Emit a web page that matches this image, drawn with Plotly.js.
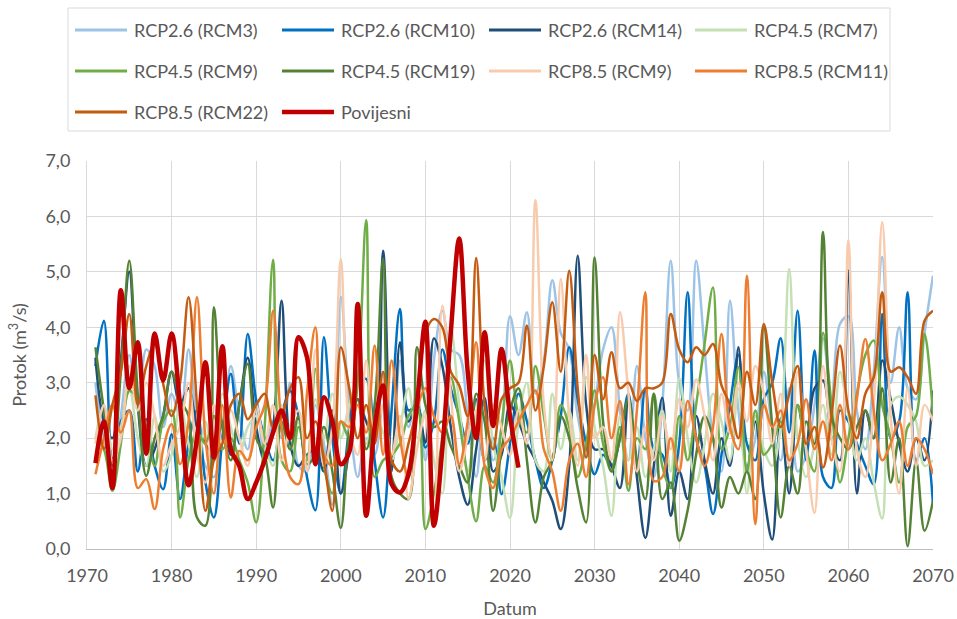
<!DOCTYPE html>
<html>
<head>
<meta charset="utf-8">
<script src="https://cdn.plot.ly/plotly-3.0.1.min.js"></script>
<style>html,body{margin:0;padding:0;background:#fff;}#chart{width:957px;height:619px;}</style>
</head>
<body>
<div id="chart"></div>
<script>
// ---- categories (years) ----
const years = [1971,1972,1973,1974,1975,1976,1977,1978,1979,1980,
1981,1982,1983,1984,1985,1986,1987,1988,1989,1990,
1991,1992,1993,1994,1995,1996,1997,1998,1999,2000,
2001,2002,2003,2004,2005,2006,2007,2008,2009,2010,
2011,2012,2013,2014,2015,2016,2017,2018,2019,2020,
2021,2022,2023,2024,2025,2026,2027,2028,2029,2030,
2031,2032,2033,2034,2035,2036,2037,2038,2039,2040,
2041,2042,2043,2044,2045,2046,2047,2048,2049,2050,
2051,2052,2053,2054,2055,2056,2057,2058,2059,2060,
2061,2062,2063,2064,2065,2066,2067,2068,2069,2070];
const yearsHist = [1971,1972,1973,1974,1975,1976,1977,1978,1979,1980,
1981,1982,1983,1984,1985,1986,1987,1988,1989,1990,
1991,1992,1993,1994,1995,1996,1997,1998,1999,2000,
2001,2002,2003,2004,2005,2006,2007,2008,2009,2010,
2011,2012,2013,2014,2015,2016,2017,2018,2019,2020,2021];

// ---- series values (m3/s) ----
const rcp26_rcm3 = [3.0,2.0,1.6,2.4,3.5,2.6,3.6,3.3,2.2,2.8,
2.4,3.6,2.2,1.5,1.3,2.0,3.3,2.4,1.8,2.7,
1.6,2.3,2.0,3.0,1.5,1.4,2.6,1.9,0.8,4.55,
2.5,1.3,2.0,1.7,2.6,1.5,3.4,2.2,2.8,1.6,
3.4,4.3,3.6,3.5,2.4,1.3,2.6,1.6,2.2,4.2,
3.5,4.27,2.8,3.4,4.85,3.9,3.6,2.4,1.8,2.6,
3.6,4.0,2.5,1.6,3.3,2.0,1.3,2.6,5.2,3.0,
2.5,5.2,3.6,2.0,1.4,4.48,2.5,1.5,2.0,3.2,
2.2,1.6,2.9,1.4,1.7,2.6,3.8,2.7,4.06,4.2,
2.5,1.8,3.2,5.27,3.0,4.0,2.9,2.7,3.9,4.93];

const rcp26_rcm10 = [3.3,4.12,1.6,2.3,2.5,1.4,2.34,1.5,1.08,2.07,
0.9,1.9,2.5,1.2,0.57,2.0,3.16,1.9,3.88,2.67,
2.0,1.6,2.4,2.85,2.4,1.3,0.7,3.82,2.0,1.0,
2.2,3.0,3.07,1.6,0.57,2.5,4.33,2.5,2.6,1.83,
2.3,3.6,2.9,2.4,1.9,2.7,1.6,2.0,0.99,1.9,
2.8,2.3,1.6,1.1,1.6,2.4,3.64,2.7,1.9,1.35,
1.7,1.5,2.0,2.8,1.4,2.9,1.8,1.7,1.1,1.9,
4.63,2.0,1.5,0.63,1.7,2.6,3.5,1.9,1.6,2.7,
3.0,3.8,2.1,4.3,1.6,3.58,1.3,1.1,2.5,2.3,
1.9,1.5,1.17,4.24,2.0,2.3,4.63,1.6,2.0,0.81];

const rcp26_rcm14 = [3.45,2.3,2.0,3.4,5.0,2.6,1.5,1.8,2.4,3.2,
2.6,2.9,2.2,1.9,1.6,2.3,1.7,2.6,3.45,2.2,
1.6,2.2,4.48,1.9,1.5,1.7,1.8,1.4,2.5,1.0,
1.8,2.7,2.3,2.0,5.38,1.4,3.73,2.3,2.6,1.92,
3.8,3.3,2.2,1.3,0.8,1.8,2.73,1.4,1.7,2.6,
2.3,1.9,1.6,1.2,0.87,0.36,1.5,5.29,2.6,1.8,
1.8,1.5,1.1,2.73,1.3,0.2,1.5,2.73,0.6,1.4,
0.9,2.4,1.6,1.0,2.0,1.5,3.64,1.4,2.3,1.0,
0.17,2.36,1.0,2.6,1.9,2.9,3.04,2.0,1.6,5.02,
1.0,2.5,2.0,3.4,2.7,1.9,1.4,2.0,1.6,2.86];

const rcp45_rcm7 = [2.0,2.6,1.8,2.2,2.9,2.0,1.5,2.4,1.4,1.7,
2.6,1.9,1.3,2.3,1.6,2.8,2.2,1.7,2.2,2.4,
1.9,1.5,2.6,1.8,2.3,1.6,2.7,2.0,2.8,2.0,
2.6,3.0,1.9,2.4,2.1,1.6,2.2,2.9,2.0,2.5,
1.6,1.0,4.0,2.6,1.4,2.4,3.4,1.9,1.3,0.56,
2.3,3.0,1.6,1.4,2.8,1.8,2.5,1.6,3.1,2.2,
1.5,0.6,2.4,1.6,2.2,1.3,1.8,2.5,1.4,3.08,
2.0,1.2,1.9,2.8,2.3,1.6,2.9,1.0,2.4,1.8,
1.5,2.2,5.05,2.0,1.3,1.9,2.6,1.7,3.2,2.4,
1.6,2.0,1.2,0.55,2.6,2.75,2.6,2.3,1.5,1.6];

const rcp45_rcm9 = [2.0,1.8,1.05,1.9,2.85,2.7,2.2,1.5,2.3,2.5,
0.57,1.6,2.1,1.9,2.4,1.8,2.0,1.6,1.2,0.48,
2.2,5.22,1.6,1.4,2.2,1.6,3.25,1.5,1.0,2.3,
2.0,3.0,5.93,1.3,1.6,1.7,1.9,2.4,2.6,0.36,
1.0,2.0,3.1,2.3,1.3,0.5,1.5,1.2,2.2,3.4,
2.4,2.1,3.3,2.4,1.6,2.6,2.2,1.3,1.9,2.86,
1.9,1.4,2.2,1.05,2.0,1.8,2.8,1.5,1.1,2.4,
1.6,2.6,3.7,4.72,1.8,2.2,3.28,1.4,2.5,1.7,
1.9,2.3,1.6,2.6,1.8,1.4,3.9,2.6,1.2,2.0,
2.8,3.5,3.76,2.6,2.0,1.2,2.2,2.4,3.88,2.4];

const rcp45_rcm19 = [3.64,2.5,1.5,3.2,5.2,2.8,1.32,2.0,2.4,3.2,
2.7,2.4,0.57,0.42,4.36,2.2,1.6,2.6,3.34,2.0,
1.7,0.75,2.3,1.8,2.4,1.53,1.7,2.2,1.4,0.38,
2.1,2.7,1.8,2.6,5.23,1.3,1.0,0.9,3.64,2.6,
2.2,2.3,1.86,1.5,1.2,2.8,2.3,0.69,1.8,2.5,
2.9,1.6,0.48,1.3,1.6,2.4,2.0,1.1,0.48,5.26,
2.3,1.4,2.0,2.7,1.6,0.9,2.8,0.9,1.2,0.15,
0.7,1.7,2.4,2.0,0.75,1.3,1.0,1.4,0.9,4.0,
2.2,0.57,1.5,1.0,2.3,1.9,5.72,2.4,2.0,1.8,
2.2,2.5,2.0,2.9,1.2,2.0,0.05,1.6,0.33,0.87];

const rcp85_rcm9 = [1.9,2.6,1.6,2.0,3.3,2.5,3.0,2.4,1.5,1.9,
2.2,3.0,1.7,1.2,2.6,1.9,2.5,2.0,1.5,2.6,
1.9,2.6,1.6,2.2,2.5,1.4,3.6,1.5,2.2,5.23,
2.2,1.7,3.4,1.9,2.6,1.7,2.4,0.9,1.8,2.4,
0.4,4.39,2.8,1.4,2.0,2.5,1.6,2.6,2.2,1.7,
2.5,1.9,6.29,2.6,1.6,4.87,2.4,1.5,3.5,2.0,
2.2,1.6,4.27,2.8,1.4,2.2,1.6,2.4,1.8,2.7,
2.2,3.06,2.4,1.6,2.8,2.1,3.0,2.3,3.3,2.8,
1.9,2.8,1.5,3.2,1.8,0.65,3.3,2.0,1.4,5.57,
1.8,1.3,2.6,5.9,2.4,1.0,2.9,1.5,2.6,2.3];

const rcp85_rcm11 = [1.35,2.0,2.6,2.1,2.5,1.1,1.26,0.72,1.8,2.25,
1.53,2.3,4.54,2.0,1.0,2.6,0.93,1.77,1.6,2.2,
2.6,4.3,2.2,1.3,1.17,2.8,4.0,1.7,1.5,2.3,
2.2,2.6,2.1,3.67,1.7,3.4,2.0,1.29,2.5,2.9,
2.4,2.1,2.4,1.53,2.3,3.73,1.5,1.1,1.8,2.0,
2.3,2.6,2.86,1.8,1.4,0.69,1.6,1.9,1.3,2.6,
3.1,2.0,2.67,1.17,2.5,4.63,1.23,1.3,2.0,1.4,
2.67,2.0,1.5,2.2,3.88,2.2,1.8,4.93,0.45,2.6,
2.2,2.5,1.6,1.9,2.7,1.8,2.3,1.6,2.6,1.8,
2.7,3.79,2.5,1.6,1.9,2.3,1.5,2.0,1.8,1.35];

const rcp85_rcm22 = [2.77,1.8,2.6,3.2,4.24,2.6,3.3,3.7,2.98,2.4,
3.0,4.54,2.6,0.69,1.6,1.9,2.6,2.8,2.34,2.6,
2.8,2.2,2.4,2.9,3.1,2.0,2.3,1.6,0.69,3.64,
2.9,2.0,2.6,1.9,3.2,1.6,1.4,1.9,2.6,3.9,
4.15,4.0,3.2,2.95,2.4,5.25,2.6,1.8,2.7,2.9,
3.0,4.03,2.5,3.3,4.45,3.2,5.02,2.9,1.65,3.5,
2.7,3.55,2.9,3.0,2.67,2.9,2.9,3.0,4.24,3.6,
3.37,3.64,3.5,3.7,2.95,2.6,2.0,3.2,2.6,4.06,
3.0,2.2,2.8,3.3,1.9,2.2,1.47,2.4,3.67,2.5,
2.0,2.8,3.1,4.63,3.2,3.28,3.1,2.8,4.12,4.3];

const povijesni = [1.55,2.3,1.1,4.67,2.9,3.73,1.72,3.89,3.04,3.89,
2.6,1.15,2.0,3.37,1.65,3.66,1.8,1.5,0.9,1.2,
1.6,2.1,2.5,2.0,3.82,3.46,1.53,2.74,2.3,1.53,
1.75,4.42,0.6,2.2,2.95,1.17,1.02,1.35,2.6,4.1,
0.42,1.8,3.9,5.6,3.2,2.0,3.91,2.22,3.61,2.4,1.47];

const seriesNames = ['RCP2.6 (RCM3)','RCP2.6 (RCM10)','RCP2.6 (RCM14)','RCP4.5 (RCM7)',
  'RCP4.5 (RCM9)','RCP4.5 (RCM19)','RCP8.5 (RCM9)','RCP8.5 (RCM11)','RCP8.5 (RCM22)','Povijesni'];
const seriesData = [rcp26_rcm3,rcp26_rcm10,rcp26_rcm14,rcp45_rcm7,rcp45_rcm9,rcp45_rcm19,rcp85_rcm9,rcp85_rcm11,rcp85_rcm22,povijesni];
const seriesX = [years,years,years,years,years,years,years,years,years,yearsHist];
const colors = ['#9DC3E6','#0070C0','#1F4E79','#C5E0B4','#70AD47','#548235','#F8CBAD','#ED7D31','#C55A11','#C00000'];
const widths = [2.5,2.5,2.5,2.5,2.5,2.5,2.5,2.5,2.5,4.5];

const FONT = 'Lato, "Open Sans", sans-serif';
const TXT = '#595959';

const traces = seriesData.map((d,i)=>({
  type:'scatter', mode:'lines', name:seriesNames[i],
  x:seriesX[i], y:d,
  line:{color:colors[i], width:widths[i], shape:'spline', smoothing:1},
  showlegend:false, hoverinfo:'x+y+name'
}));

// plot-area geometry (pixels)
const W=957, H=619, ML=87, MR=24, MT=161, MB=70;
const PW = W-ML-MR, PH = H-MT-MB;
const px = v => (v-ML)/PW;
const py = v => (H-MB-v)/PH;

// manual legend (box, samples, labels)
const shapes = [{type:'rect', xref:'paper', yref:'paper', x0:px(68), x1:px(890), y0:py(131), y1:py(8),
  line:{color:'#d9d9d9', width:1}, fillcolor:'rgba(0,0,0,0)', layer:'above'}];
const annotations = [];
const colX = [75,282,489,695];
const rowY = [30,71,112];
seriesNames.forEach((n,i)=>{
  const c = i%4, r = Math.floor(i/4);
  const x0 = colX[c], yy = rowY[r];
  shapes.push({type:'line', xref:'paper', yref:'paper', x0:px(x0), x1:px(x0+52), y0:py(yy), y1:py(yy),
    line:{color:colors[i], width: i===9?4.5:3}});
  annotations.push({xref:'paper', yref:'paper', x:px(x0+57), y:py(yy), xanchor:'left', yanchor:'middle',
    text:n, showarrow:false, font:{family:FONT, size:18, color:TXT}});
});

const layout = {
  width:W, height:H,
  margin:{l:ML, r:MR, t:MT, b:MB, pad:0},
  paper_bgcolor:'#ffffff', plot_bgcolor:'#ffffff',
  separators:',.',
  font:{family:FONT, size:18, color:TXT},
  showlegend:false,
  xaxis:{range:[1970,2070], dtick:10, tick0:1970, tickformat:'d',
    showgrid:true, gridcolor:'#d9d9d9', gridwidth:1,
    showline:true, linecolor:'#bfbfbf', linewidth:1.3,
    zeroline:false, ticks:'outside', ticklen:10, tickcolor:'rgba(0,0,0,0)',
    tickfont:{family:FONT, size:18, color:TXT},
    title:{text:'Datum', font:{family:FONT, size:18, color:TXT}, standoff:18},
    automargin:false, fixedrange:true},
  yaxis:{range:[0,7], dtick:1, tick0:0, tickformat:'.1f',
    showgrid:true, gridcolor:'#d9d9d9', gridwidth:1,
    showline:true, linecolor:'#d9d9d9', linewidth:1,
    zeroline:false, ticks:'outside', ticklen:12, tickcolor:'rgba(0,0,0,0)',
    tickfont:{family:FONT, size:18, color:TXT},
    title:{text:'Protok (m<sup>3</sup>/s)', font:{family:FONT, size:18, color:TXT}, standoff:14},
    automargin:false, fixedrange:true},
  shapes:shapes,
  annotations:annotations
};

Plotly.newPlot('chart', traces, layout, {displayModeBar:false, staticPlot:true});
</script>
</body>
</html>
